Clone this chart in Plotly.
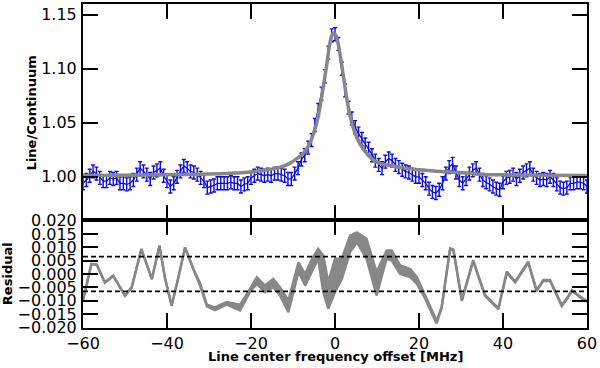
import plotly.graph_objects as go

# ---------------- data ----------------
# channel grid (MHz), 0.8 MHz spacing
freq = [round(-60 + 0.8 * i, 1) for i in range(151)]
ratio = [
    0.994, 0.997, 1.001, 1.005, 1.003, 0.999, 0.996, 0.996, 0.999, 0.998,
    0.999, 0.994, 0.994, 0.993, 0.994, 0.997, 1.002, 1.008, 1.005, 1.002,
    0.998, 1.004, 1.006, 1.008, 1.001, 0.996, 0.991, 0.994, 1.000, 1.005,
    1.010, 1.008, 1.005, 1.004, 1.002, 0.999, 0.996, 0.990, 0.991, 0.992,
    0.994, 0.994, 0.994, 0.994, 0.995, 0.994, 0.994, 0.991, 0.993, 0.994,
    0.999, 1.001, 1.003, 1.002, 1.001, 1.002, 1.001, 1.003, 1.003, 1.002,
    1.001, 0.998, 0.998, 1.003, 1.008, 1.016, 1.020, 1.027, 1.034, 1.048,
    1.062, 1.077, 1.093, 1.115, 1.131, 1.132, 1.123, 1.100, 1.080, 1.064,
    1.054, 1.046, 1.040, 1.035, 1.030, 1.026, 1.020, 1.015, 1.011, 1.008,
    1.014, 1.017, 1.015, 1.011, 1.009, 1.0065, 1.005, 1.004, 1.002, 1.000,
    1.000, 0.997, 0.994, 0.989, 0.986, 0.985, 0.988, 0.994, 1.003, 1.009,
    1.012, 1.004, 0.997, 0.994, 0.998, 1.003, 1.006, 1.008, 1.002, 0.997,
    0.995, 0.993, 0.991, 0.989, 0.988, 0.995, 0.999, 1.000, 1.002, 0.998,
    1.001, 1.004, 1.006, 1.008, 1.002, 0.999, 0.997, 0.998, 0.997, 1.000,
    0.997, 0.993, 0.990, 0.989, 0.990, 0.994, 0.994, 0.995, 0.995, 0.994,
    0.991,
]
ratio_err = 0.006

model_x = [-60, -50, -40, -30, -25, -20, -16, -13, -11, -9, -7.5, -6, -5, -4, -3, -2, -1.2,
           -0.5, 0.2, 1, 2, 3, 4, 5, 6, 7.5, 9, 11, 13, 16, 20, 25, 30, 36, 40, 50, 60]
model_y = [1.0012, 1.0014, 1.0018, 1.0025, 1.0032, 1.0045, 1.0065, 1.009, 1.012, 1.017, 1.022,
           1.031, 1.041, 1.056, 1.078, 1.103, 1.124, 1.133, 1.131, 1.118, 1.093, 1.068, 1.050,
           1.038, 1.030, 1.022, 1.016, 1.012, 1.0105, 1.0085, 1.0065, 1.005, 1.004, 1.002,
           1.0018, 1.0014, 1.0012]

res_x = [-60, -58, -56.7, -54.8, -52.8, -50, -48.4, -46.1, -43.6, -41.8, -40.5, -38.9, -37.3,
         -35.7, -33.7, -32.1, -30.5, -28.6, -25.8, -22.6, -21.0, -20.2, -18.6, -16.7, -14.7,
         -13.1, -11.1, -8.7, -7.1, -5.5, -4.0, -2.8, -1.6, 0, 1.6, 3.6, 5.2, 7.5, 9.9, 12.3,
         13.5, 15.5, 17.9, 19.5, 21.4, 23.0, 24.2, 25.4, 27.4, 28.2, 30.2, 32.9, 35.7, 38.9,
         40.9, 42.9, 46.0, 48.0, 49.6, 51.2, 52.8, 54.0, 55.2, 56.4, 57.9, 59.5, 60]
res_hi = [-0.0099, 0.0038, 0.0036, -0.0031, -0.0006, -0.008, -0.0049, 0.0094, -0.0018, 0.0107,
          -0.0012, -0.0118, -0.0012, 0.010, 0.0019, -0.0035, -0.0115, -0.0125, -0.0105, -0.0115,
          -0.0075, -0.0055, -0.0012, -0.0043, -0.0018, -0.0049, -0.0099, 0.0044, 0.0000, 0.0057,
          0.0094, 0.0069, -0.0030, 0.0057, 0.0057, 0.0144, 0.0156, 0.0132, 0.0007, 0.0088,
          0.0088, 0.0032, 0.0019, -0.0012, -0.0078, -0.0140, -0.0175, -0.0122, 0.0096, 0.0092,
          -0.0097, 0.0052, -0.0078, -0.0128, 0.0009, -0.0028, 0.0046, -0.0060, -0.0022, -0.0022,
          -0.0078, -0.0116, -0.0091, -0.0060, -0.0078, -0.0097, -0.0098]
res_lo = [-0.0101, 0.0036, 0.0034, -0.0033, -0.0008, -0.0082, -0.0051, 0.0092, -0.0020, 0.0105,
          -0.0014, -0.0120, -0.0014, 0.0098, 0.0017, -0.0045, -0.0121, -0.0135, -0.0115, -0.0136,
          -0.0090, -0.0065, -0.0037, -0.0068, -0.0049, -0.0080, -0.0143, 0.0007, -0.0043, 0.0007,
          0.0057, -0.0068, -0.0130, -0.0068, -0.0020, 0.0082, 0.0119, 0.0057, -0.0080, 0.0057,
          0.0050, 0.0000, -0.0012, -0.0037, -0.0090, -0.0146, -0.0185, -0.0126, 0.0092, 0.0088,
          -0.0101, 0.0048, -0.0082, -0.0132, 0.0005, -0.0032, 0.0042, -0.0064, -0.0026, -0.0026,
          -0.0082, -0.0120, -0.0095, -0.0064, -0.0082, -0.0101, -0.0102]
res_limit = 0.0065

x_ticks = [-60, -40, -20, 0, 20, 40, 60]
x_ticklabels = ["\u221260", "\u221240", "\u221220", "0", "20", "40", "60"]
top_yticks = [1.00, 1.05, 1.10, 1.15]
top_yticklabels = ["1.00", "1.05", "1.10", "1.15"]
res_yticks = [0.020, 0.015, 0.010, 0.005, 0.0, -0.005, -0.010, -0.015, -0.020]
res_yticklabels = ["0.020", "0.015", "0.010", "0.005", "0.000",
                   "\u22120.005", "\u22120.010", "\u22120.015", "\u22120.020"]

# ---------------- figure ----------------
FONT = "DejaVu Sans"
BLUE = "rgb(10,10,225)"
GRAY = "rgb(135,135,135)"

fig = go.Figure()

fig.add_trace(go.Scatter(
    x=freq, y=ratio, mode="lines", xaxis="x", yaxis="y",
    line=dict(color=BLUE, width=1.3),
    error_y=dict(type="constant", value=ratio_err, color=BLUE, thickness=1.4, width=2),
    showlegend=False,
))
fig.add_trace(go.Scatter(
    x=model_x, y=model_y, mode="lines", xaxis="x", yaxis="y",
    line=dict(color=GRAY, width=3.5, shape="spline", smoothing=0.8),
    showlegend=False,
))

fig.add_trace(go.Scatter(
    x=res_x, y=res_lo, mode="lines", xaxis="x2", yaxis="y2",
    line=dict(color=GRAY, width=2.4), showlegend=False,
))
fig.add_trace(go.Scatter(
    x=res_x, y=res_hi, mode="lines", xaxis="x2", yaxis="y2",
    line=dict(color=GRAY, width=2.4), fill="tonexty", fillcolor=GRAY, showlegend=False,
))

for v in (res_limit, -res_limit):
    fig.add_shape(type="line", xref="x2 domain", yref="y2", x0=0, x1=1, y0=v, y1=v,
                  line=dict(color="black", width=1.6, dash="5px,3px"))

axis_common = dict(
    showline=True, linecolor="black", linewidth=2, mirror="ticks",
    ticks="inside", ticklen=15, tickwidth=2, tickcolor="black",
    showgrid=False, zeroline=False, automargin=False,
    tickfont=dict(family=FONT, size=16, color="black"),
)

fig.update_layout(
    width=600, height=368,
    margin=dict(l=83, r=13, t=4, b=40, autoexpand=False),
    paper_bgcolor="white", plot_bgcolor="white",
    xaxis=dict(domain=[0, 1], anchor="y", range=[-60, 60], tickvals=x_ticks,
               showticklabels=False, **axis_common),
    yaxis=dict(domain=[0.3333, 1], anchor="x", range=[0.96, 1.16], tickvals=top_yticks,
               ticktext=top_yticklabels, ticklabelstandoff=1, **axis_common),
    xaxis2=dict(domain=[0, 1], anchor="y2", range=[-60, 60], tickvals=x_ticks,
                ticktext=x_ticklabels, ticklabelstandoff=0, **axis_common),
    yaxis2=dict(domain=[0, 0.3333], anchor="x2", range=[-0.0202, 0.0202], tickvals=res_yticks,
                ticktext=res_yticklabels, ticklabelstandoff=1, **axis_common),
    annotations=[
        dict(text="<b>Line/Continuum</b>", xref="paper", yref="paper", x=-0.1015, y=0.665,
             textangle=-90, showarrow=False, xanchor="center", yanchor="middle",
             font=dict(family=FONT, size=13, color="black")),
        dict(text="<b>Residual</b>", xref="paper", yref="paper", x=-0.1485, y=0.1667,
             textangle=-90, showarrow=False, xanchor="center", yanchor="middle",
             font=dict(family=FONT, size=13, color="black")),
        dict(text="<b>Line center frequency offset [MHz]</b>", xref="paper", yref="paper",
             x=0.5, y=-0.0895, showarrow=False, xanchor="center", yanchor="middle",
             font=dict(family=FONT, size=13, color="black")),
    ],
)

fig.write_html("out.html", config={"displayModeBar": False},
               post_script="document.body.style.margin='0';document.body.style.overflow='hidden';")
